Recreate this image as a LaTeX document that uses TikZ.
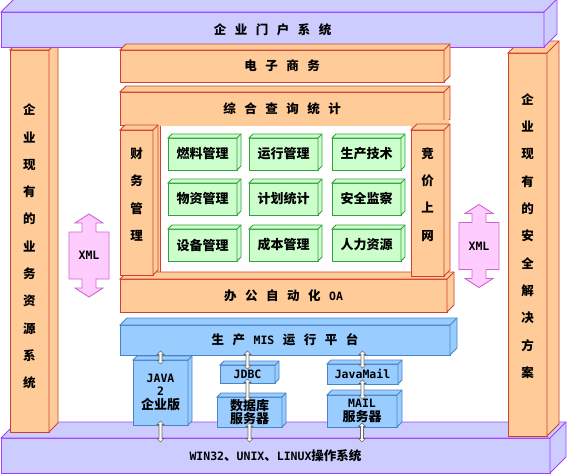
\documentclass[tikz,border=0pt]{standalone}
\usepackage{fontspec}
\setmainfont{Noto Sans CJK SC}
\newfontfamily\mono{DejaVu Sans Mono}
\usepackage{tikz}
\usetikzlibrary{calc, positioning}

\definecolor{portalfill}{HTML}{CCCCFF}
\definecolor{portalline}{HTML}{A040FF}
\definecolor{peach}{HTML}{FFCC99}
\definecolor{brick}{HTML}{D04030}
\definecolor{sky}{HTML}{99CCFF}
\definecolor{steel}{HTML}{4A84C8}
\definecolor{mint}{HTML}{CCFFCC}
\definecolor{leaf}{HTML}{33A040}
\definecolor{pinkfill}{HTML}{FFCCFF}
\definecolor{plumline}{HTML}{CC66CC}

\newcommand{\widespace}{\spaceskip 8.5pt\relax}
\newcommand{\latin}{\mono\bfseries\fontsize{11.5}{12}\selectfont}

% top and right faces of a box node: node, depth, style
\newcommand{\boxsides}[3]{%
  \filldraw[#3] (#1.north west) -- ++(#2,-#2) -- ([shift={(#2,-#2)}]#1.north east)
    -- ([shift={(#2,-#2)}]#1.south east) -- (#1.south east) -- (#1.north east) -- cycle;
  \draw[#3] (#1.north east) -- ++(#2,-#2);
}
% small hollow double arrow from top point to bottom point
\newcommand{\updownlink}[2]{%
  \filldraw[linkarrow] let \p1=(#1), \p2=(#2) in
    (\x1,\y1+4pt) -- (\x1+3.5pt,\y1+0.5pt) -- (\x1+1.5pt,\y1+0.5pt) -- (\x1+1.5pt,\y2-0.5pt)
    -- (\x1+3.5pt,\y2-0.5pt) -- (\x1,\y2-4pt) -- (\x1-3.5pt,\y2-0.5pt) -- (\x1-1.5pt,\y2-0.5pt)
    -- (\x1-1.5pt,\y1+0.5pt) -- (\x1-3.5pt,\y1+0.5pt) -- cycle;
}
% big XML double arrow round a coordinate
\newcommand{\xmlshape}[1]{%
  \filldraw[xmlarrow] ([shift={(0,-41.5)}]#1) -- ++(14,9) -- ++(-7,0) -- ++(0,9) -- ++(13,0)
    -- ++(0,47) -- ++(-13,0) -- ++(0,9) -- ++(7,0) -- ++(-14,9) -- ++(-14,-9) -- ++(7,0)
    -- ++(0,-9) -- ++(-13,0) -- ++(0,-47) -- ++(13,0) -- ++(0,-9) -- ++(-7,0) -- cycle;
}

\begin{document}
\begin{tikzpicture}[x=1pt,y=-1pt]
    \tikzstyle{every node} = [font=\bfseries\fontsize{12.5}{15}\selectfont]
    \tikzstyle{slab} = [rectangle, anchor=north west, inner sep=0pt, outer sep=0pt, line width=0.9pt]
    \tikzstyle{osbox} = [slab, fill=portalfill, draw=portalline]
    \tikzstyle{peachbox} = [slab, fill=peach, draw=brick]
    \tikzstyle{bluebox} = [slab, fill=sky, draw=steel, align=center, font=\bfseries\fontsize{13}{13.5}\selectfont]
    \tikzstyle{modbox} = [slab, fill=mint, draw=leaf, minimum width=69pt, minimum height=32pt, font=\bfseries\fontsize{13}{15}\selectfont]
    \tikzstyle{spaced} = [font=\bfseries\fontsize{12.5}{15}\selectfont\widespace]
    \tikzstyle{vtext} = [align=center, font=\bfseries\fontsize{12.5}{27.3}\selectfont]
    \tikzstyle{xmlarrow} = [fill=pinkfill, draw=plumline, line width=0.9pt]
    \tikzstyle{linkarrow} = [fill=white, draw=gray!80!black, line width=0.6pt]
    \useasboundingbox (0,0) rectangle (567,475);

    % operating system base
    \node[osbox, spaced, minimum width=549pt, minimum height=35pt] (os) at (1,438)
      {{\latin WIN32}、{\latin UNIX}、{\latin LINUX}操作系统};
    \boxsides{os}{16}{osbox}

    % side columns
    \node[peachbox, minimum width=39pt, minimum height=382pt] (bizcol) at (10,50) {};
    \boxsides{bizcol}{9}{peachbox}
    \node[vtext] (biztext) at (29.5,246.5) {企\\业\\现\\有\\的\\业\\务\\资\\源\\系\\统};
    \node[peachbox, minimum width=39pt, minimum height=383pt] (seccol) at (508,53) {};
    \boxsides{seccol}{12}{peachbox}
    \node[vtext] (sectext) at (527.5,236) {企\\业\\现\\有\\的\\安\\全\\解\\决\\方\\案};

    % portal on top
    \node[osbox, spaced, minimum width=543pt, minimum height=35pt] (portal) at (1,12) {企 业 门 户 系 统};
    \boxsides{portal}{13}{osbox}

    % application layers
    \node[peachbox, spaced, minimum width=324pt, minimum height=32pt] (ebiz) at (120,50) {电 子 商 务};
    \boxsides{ebiz}{6}{peachbox}
    \node[peachbox, spaced, minimum width=324pt, minimum height=33pt] (query) at (120,92) {综 合 查 询 统 计};
    \boxsides{query}{6}{peachbox}

    % frame round the modules
    \fill[peach] (150,120) rectangle (449,279);
    \fill[white] (160,125.5) rectangle (411,272);
    \draw[brick, line width=0.9pt] (160,125.5) -- (160,272) -- (411,272);

    \node[peachbox, spaced, minimum width=327pt, minimum height=33pt] (oa) at (120,279)
      {办 公 自 动 化 {\latin OA}};
    \boxsides{oa}{7}{peachbox}

    \node[peachbox, minimum width=33pt, minimum height=145pt] (fin) at (120,130) {};
    \boxsides{fin}{5}{peachbox}
    \node[vtext] (fintext) at (136.5,194.5) {财\\务\\管\\理};
    \node[peachbox, minimum width=33pt, minimum height=146pt] (bid) at (411,130) {};
    \boxsides{bid}{6}{peachbox}
    \node[vtext] (bidtext) at (427.5,194.5) {竞\\价\\上\\网};

    % modules
    \foreach \nm/\txt/\px/\py in {fuel/燃料管理/168/138, run/运行管理/249/138, tech/生产技术/332/138,
        mat/物资管理/168/183, plan/计划统计/249/183, safe/安全监察/332/183,
        equip/设备管理/168/229, cost/成本管理/249/229, hr/人力资源/332/229}{
      \node[modbox] (\nm) at (\px,\py) {\txt};
      \boxsides{\nm}{4}{modbox}
    }

    % platform
    \node[bluebox, spaced, minimum width=330pt, minimum height=30pt] (mis) at (120,325)
      {生 产 {\latin MIS} 运 行 平 台};
    \boxsides{mis}{7}{bluebox}

    \node[bluebox, minimum width=55pt, minimum height=65pt] (java) at (133,360)
      {{\latin JAVA}\\{\latin 2}\\企业版};
    \boxsides{java}{4}{bluebox}
    \node[bluebox, minimum width=55pt, minimum height=18pt] (jdbc) at (220,365) {\latin JDBC};
    \boxsides{jdbc}{4}{bluebox}
    \node[bluebox, minimum width=65pt, minimum height=30pt] (db) at (217,397) {数据库\\服务器};
    \boxsides{db}{4}{bluebox}
    \node[bluebox, minimum width=71pt, minimum height=20pt] (jmail) at (327,364) {\latin JavaMail};
    \boxsides{jmail}{4}{bluebox}
    \node[bluebox, minimum width=70pt, minimum height=32pt] (mail) at (327,395) {{\latin MAIL}\\服务器};
    \boxsides{mail}{5}{bluebox}

    % XML exchange
    \coordinate (xmlL) at (89,255.5);
    \xmlshape{xmlL}
    \node[font=\latin] (xmlLtext) at (xmlL) {XML};
    \coordinate (xmlR) at (479,246);
    \xmlshape{xmlR}
    \node[font=\latin] (xmlRtext) at (xmlR) {XML};

    % Connections
    \updownlink{mis.south -| java.north}{java.north}
    \updownlink{java.south}{java.south |- os.north}
    \updownlink{mis.south -| jdbc.north}{jdbc.north}
    \updownlink{jdbc.south}{jdbc.south |- db.north}
    \updownlink{db.south}{db.south |- os.north}
    \updownlink{mis.south -| jmail.north}{jmail.north}
    \updownlink{jmail.south}{jmail.south |- mail.north}
    \updownlink{mail.south}{mail.south |- os.north}
\end{tikzpicture}
\end{document}
